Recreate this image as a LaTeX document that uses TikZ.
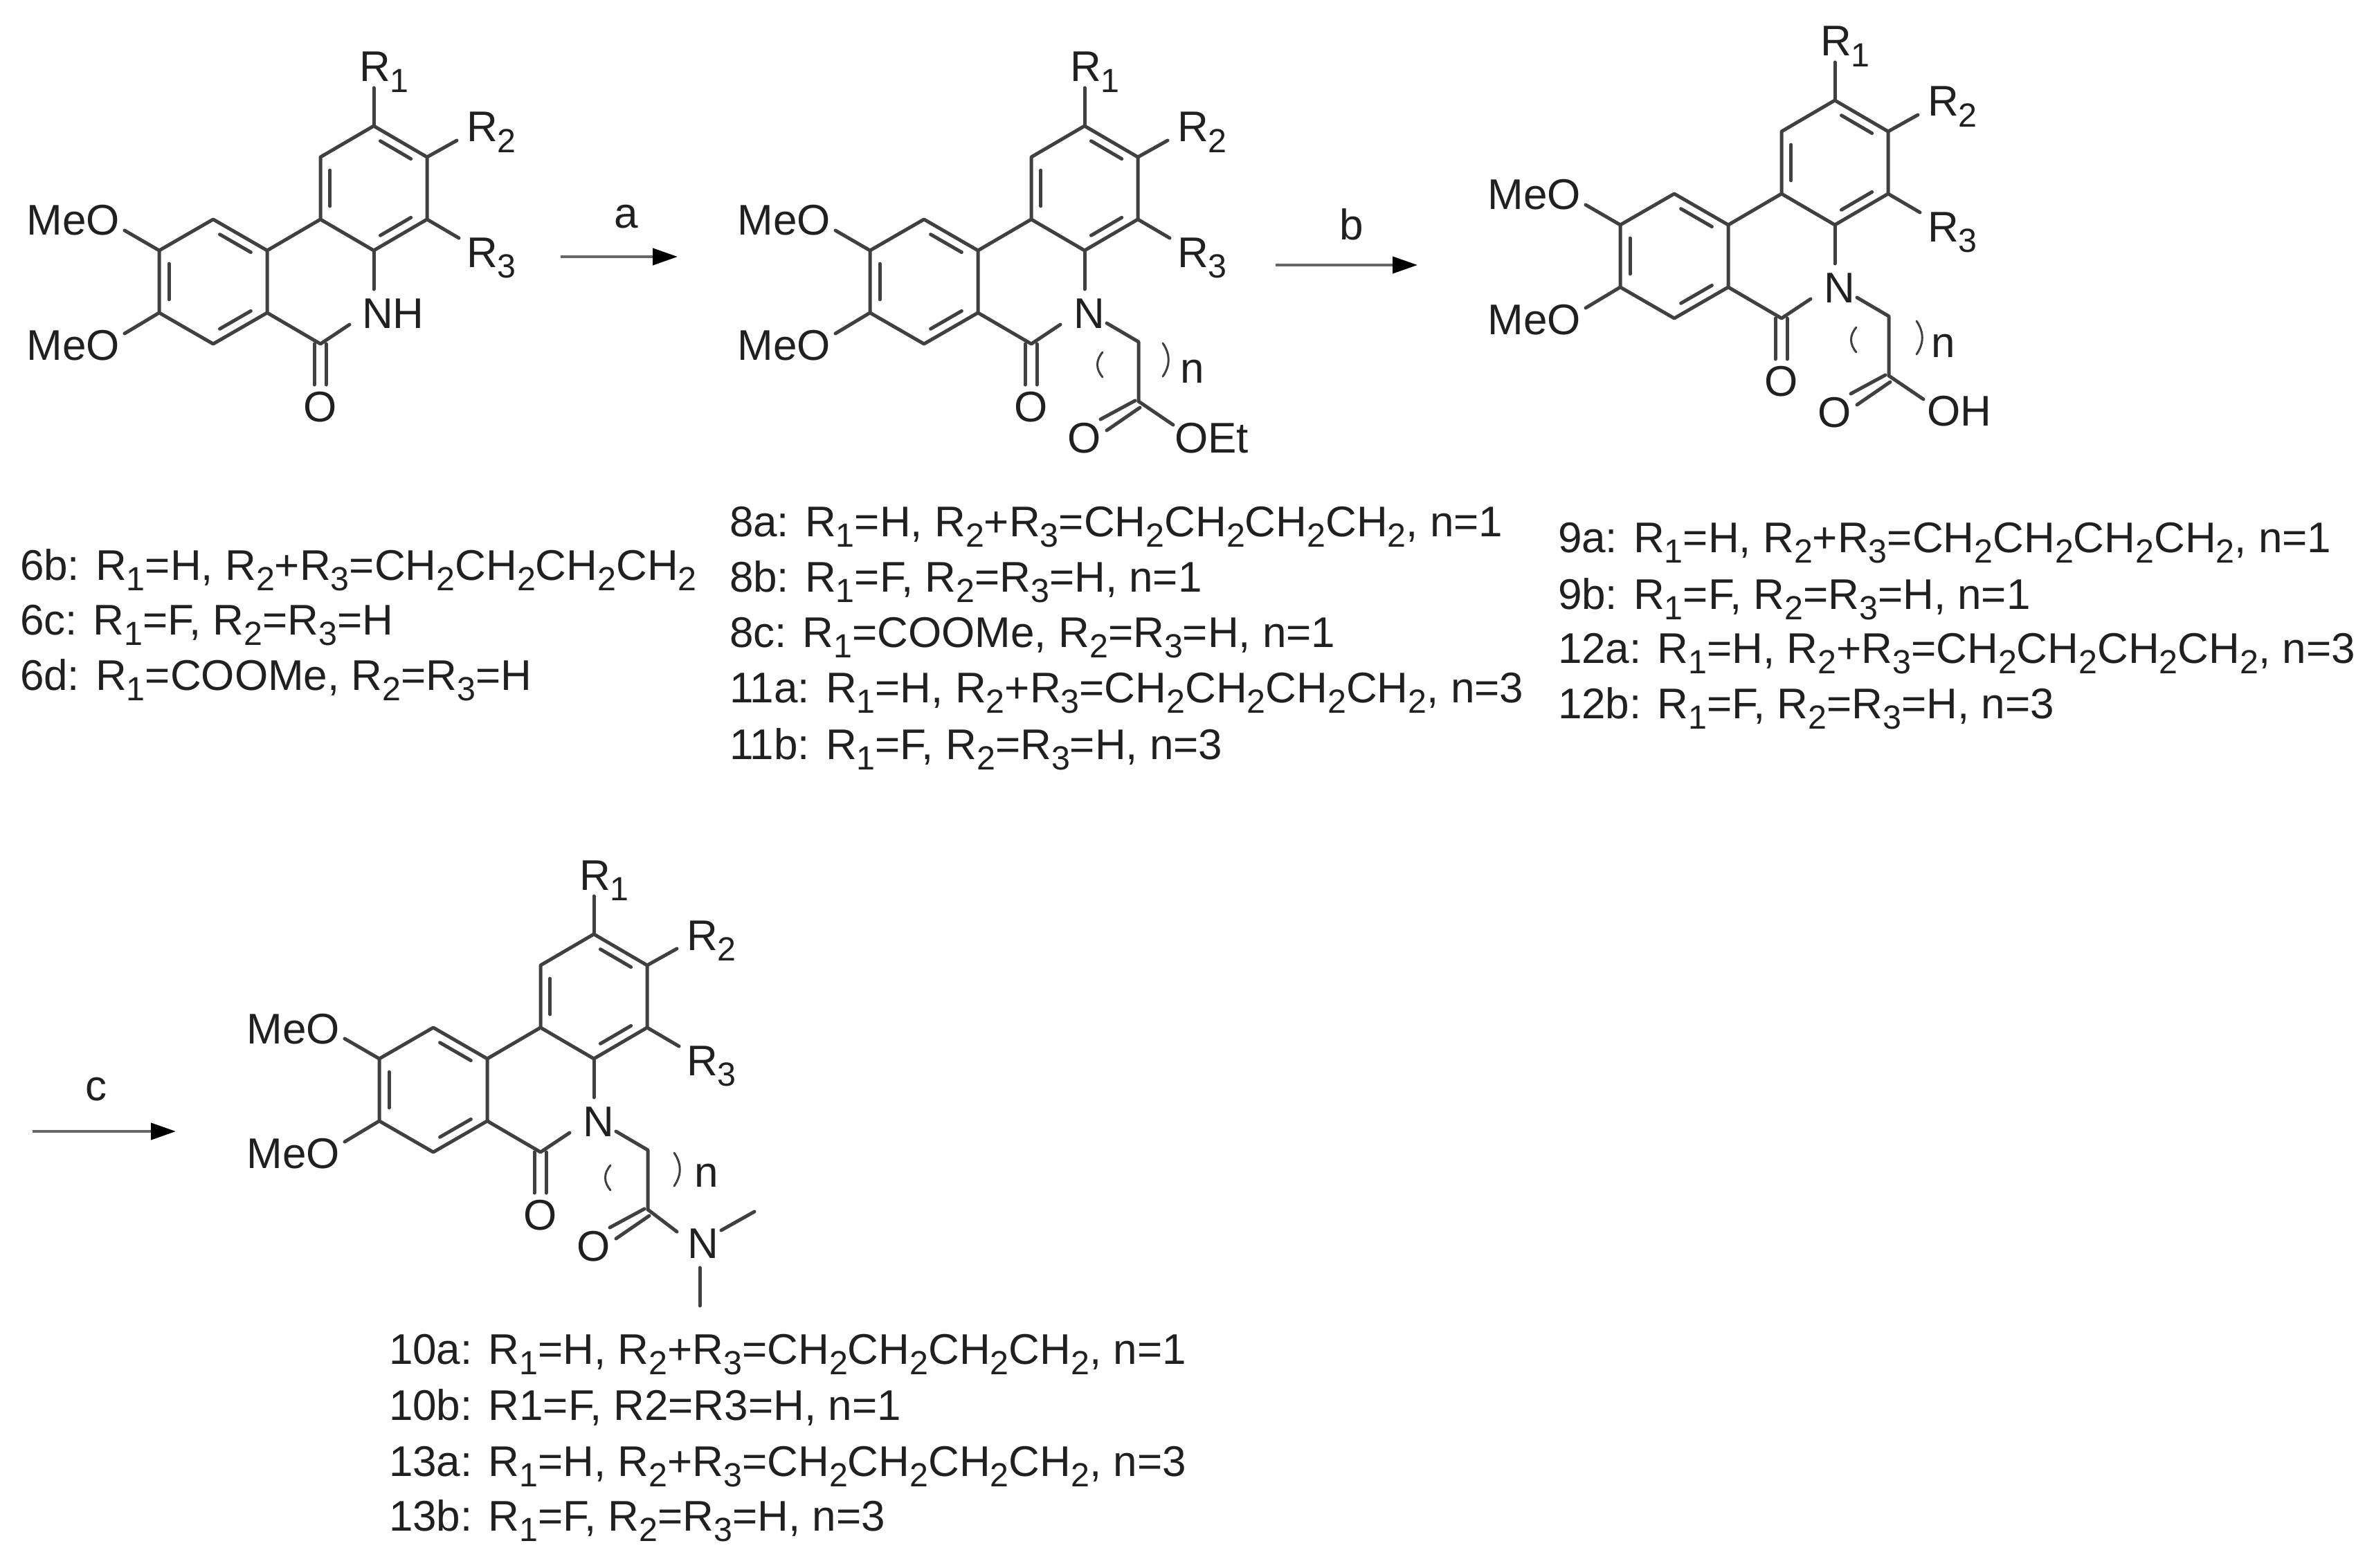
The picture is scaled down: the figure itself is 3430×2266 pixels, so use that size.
\documentclass[tikz,border=0pt]{standalone}
\usepackage{fontspec}
\usepackage{graphicx}
\setmainfont{Liberation Sans}
\usetikzlibrary{calc,arrows.meta}
\definecolor{ink}{HTML}{202020}
\definecolor{bondc}{HTML}{404040}
\newcommand\sbb[1]{\raisebox{-0.25em}{\scalebox{0.78}{#1}}}
\newcommand\Rr[1]{R\sbb{#1}}
\newcommand\chtwo{CH\sbb{2}}
\newcommand\fourch{\chtwo\chtwo\chtwo\chtwo}
\tikzset{
  atom/.style={inner sep=0pt,outer sep=0pt,text=ink,font=\fontsize{62}{70}\selectfont,anchor=base west},
  oxy/.style={atom,anchor=base},
  rowtext/.style={inner sep=0pt,outer sep=0pt,text=ink,font=\fontsize{62}{70}\selectfont,anchor=base west},
  bond/.style={line width=5pt,draw=bondc,line join=round,line cap=round},
  curl/.style={line width=3pt,draw=bondc,line cap=round},
  rxn/.style={line width=4.2pt,draw=bondc!80,-{Stealth[length=36pt,width=24pt,inset=0pt,color=black]}}
}
% inner line of an aromatic double bond
\newcommand\dbl[3]{\draw[bond] ($($(#1)!.15!(#2)$)!.18!(#3)$) -- ($($(#1)!.85!(#2)$)!.18!(#3)$);}
% tricyclic core: prefix, x, y, text of the nitrogen, x of that text
\newcommand\core[5]{%
\begin{scope}[shift={(#2,#3)},name prefix=#1-]
  \coordinate (t) at (0,0);
  \coordinate (a) at (77,45);
  \coordinate (b) at (77,135);
  \coordinate (c) at (0,180);
  \coordinate (d) at (-77,135);
  \coordinate (e) at (-77,45);
  \coordinate (f) at (-154,180);
  \coordinate (g) at (-154,270);
  \coordinate (h) at (-232,315);
  \coordinate (i) at (-310,270);
  \coordinate (j) at (-310,180);
  \coordinate (k) at (-232,135);
  \coordinate (co) at (-77,315);
  \coordinate (rc) at (0,90);
  \coordinate (lc) at (-232,225);
  \node[atom] (r1) at (-21,-64) {\Rr{1}};
  \node[atom] (r2) at (134,23) {\Rr{2}};
  \node[atom] (r3) at (134,204) {\Rr{3}};
  \node[atom,anchor=base east] (mo1) at (-367,158) {MeO};
  \node[atom,anchor=base east] (mo2) at (-367,338) {MeO};
  \node[atom] (nn) at (#5,292) {#4};
  \node[oxy] (ox) at (-77,427) {O};
  \coordinate (r1e) at (0,-55);
  \coordinate (r2e) at (120,21);
  \coordinate (r3e) at (123,162);
  \coordinate (o1e) at (-360,151);
  \coordinate (o2e) at (-360,300);
  \coordinate (ne) at (0,236);
  \coordinate (cne) at (-35,287);
  \coordinate (ol1) at (-86,315);
  \coordinate (ol2) at (-86,374);
  \coordinate (or1) at (-69,315);
  \coordinate (or2) at (-69,374);
  \draw[bond] (t)--(a)--(b)--(c)--(d)--(e)--cycle;
  \draw[bond] (f)--(k)--(j)--(i)--(h)--(g)--cycle;
  \draw[bond] (d)--(f);
  \draw[bond] (g)--(co)--(cne);
  \draw[bond] (c)--(ne);
  \draw[bond] (t)--(r1e);
  \draw[bond] (a)--(r2e);
  \draw[bond] (b)--(r3e);
  \draw[bond] (j)--(o1e);
  \draw[bond] (i)--(o2e);
  \draw[bond] (ol1)--(ol2);
  \draw[bond] (or1)--(or2);
  \dbl{t}{a}{rc}\dbl{b}{c}{rc}\dbl{d}{e}{rc}
  \dbl{k}{f}{lc}\dbl{g}{h}{lc}\dbl{i}{j}{lc}
\end{scope}}
% side chain: prefix, x, y, "(" tip x, "(" top y, ")" tip x, ")" top y, n x, n y
\newcommand\tail[9]{%
\begin{scope}[shift={(#2,#3)},name prefix=#1-]
  \coordinate (ns) at (32,285);
  \coordinate (ch) at (78,312);
  \coordinate (cc) at (78,398);
  \coordinate (d1a) at (73,397);
  \coordinate (d1b) at (23,424);
  \coordinate (d2a) at (80,407);
  \coordinate (d2b) at (32,440);
  \coordinate (pa1) at (#4+8,#5);
  \coordinate (pa2) at (#4+8,#5+36);
  \coordinate (pb1) at (#6-9,#7);
  \coordinate (pb2) at (#6-9,#7+48);
  \node[oxy] (oc) at (0,472) {O};
  \node[atom] (nt) at (#8,#9) {n};
  \draw[bond] (ns)--(ch)--(cc);
  \draw[bond] (d1a)--(d1b);
  \draw[bond] (d2a)--(d2b);
  \draw[curl] (pa1) .. controls (#4-2,#5+12) and (#4-2,#5+24) .. (pa2);
  \draw[curl] (pb1) .. controls (#6+2,#7+16) and (#6+2,#7+32) .. (pb2);
\end{scope}}
\begin{document}
\begin{tikzpicture}[x=1pt,y=-1pt]
\path[use as bounding box,fill=white] (0,0) rectangle (3430,2266);

\core{m1}{540}{182}{NH}{-17}
\core{m2}{1567}{182}{N}{-16}
\tail{m2}{1567}{182}{18}{327}{122}{314}{138}{371}
\core{m3}{2651}{145}{N}{-16}
\tail{m3}{2651}{145}{23}{328}{127}{319}{139}{371}
\core{m4}{858}{1350}{N}{-16}
\tail{m4}{858}{1350}{16}{334}{125}{316}{145}{365}

% ester
\begin{scope}[shift={(1567,182)},name prefix=m2-]
  \coordinate (oe) at (128,432);
  \node[atom] (oet) at (130,472) {OEt};
  \draw[bond] (cc)--(oe);
\end{scope}
% acid
\begin{scope}[shift={(2651,145)},name prefix=m3-]
  \coordinate (oe) at (128,432);
  \node[atom] (oh) at (133,470) {OH};
  \draw[bond] (cc)--(oe);
\end{scope}
% amide
\begin{scope}[shift={(858,1350)},name prefix=m4-]
  \coordinate (am) at (120,430);
  \coordinate (me1s) at (184,428);
  \coordinate (me1e) at (232,401);
  \coordinate (me2s) at (153,482);
  \coordinate (me2e) at (153,537);
  \node[atom] (an) at (135,468) {N};
  \draw[bond] (cc)--(am);
  \draw[bond] (me1s)--(me1e);
  \draw[bond] (me2s)--(me2e);
\end{scope}

% reaction arrows
\coordinate (a1) at (810,371); \coordinate (a2) at (979,371);
\coordinate (b1) at (1843,383); \coordinate (b2) at (2048,383);
\coordinate (c1) at (47,1635); \coordinate (c2) at (254,1635);
\draw[rxn] (a1)--(a2);
\draw[rxn] (b1)--(b2);
\draw[rxn] (c1)--(c2);
\node[oxy] (la) at (905,330) {a};
\node[oxy] (lb) at (1953,346) {b};
\node[oxy] (lc) at (139,1590) {c};

% compound lists
\node[rowtext] (t6b) at (29,838) {6b: \Rr{1}=H, \Rr{2}+\Rr{3}=\fourch};
\node[rowtext] (t6c) at (29,917) {6c: \Rr{1}=F, \Rr{2}=\Rr{3}=H};
\node[rowtext] (t6d) at (29,997) {6d: \Rr{1}=COOMe, \Rr{2}=\Rr{3}=H};

\node[rowtext] (t8a) at (1054,775) {8a: \Rr{1}=H, \Rr{2}+\Rr{3}=\fourch, n=1};
\node[rowtext] (t8b) at (1054,855) {8b: \Rr{1}=F, \Rr{2}=\Rr{3}=H, n=1};
\node[rowtext] (t8c) at (1054,935) {8c: \Rr{1}=COOMe, \Rr{2}=\Rr{3}=H, n=1};
\node[rowtext] (t11a) at (1054,1015) {11a: \Rr{1}=H, \Rr{2}+\Rr{3}=\fourch, n=3};
\node[rowtext] (t11b) at (1054,1097) {11b: \Rr{1}=F, \Rr{2}=\Rr{3}=H, n=3};

\node[rowtext] (t9a) at (2251,798) {9a: \Rr{1}=H, \Rr{2}+\Rr{3}=\fourch, n=1};
\node[rowtext] (t9b) at (2251,880) {9b: \Rr{1}=F, \Rr{2}=\Rr{3}=H, n=1};
\node[rowtext] (t12a) at (2251,958) {12a: \Rr{1}=H, \Rr{2}+\Rr{3}=\fourch, n=3};
\node[rowtext] (t12b) at (2251,1038) {12b: \Rr{1}=F, \Rr{2}=\Rr{3}=H, n=3};

\node[rowtext] (t10a) at (562,1971) {10a: \Rr{1}=H, \Rr{2}+\Rr{3}=\fourch, n=1};
\node[rowtext] (t10b) at (562,2052) {10b: R1=F, R2=R3=H, n=1};
\node[rowtext] (t13a) at (562,2133) {13a: \Rr{1}=H, \Rr{2}+\Rr{3}=\fourch, n=3};
\node[rowtext] (t13b) at (562,2212) {13b: \Rr{1}=F, \Rr{2}=\Rr{3}=H, n=3};
\end{tikzpicture}
\end{document}
